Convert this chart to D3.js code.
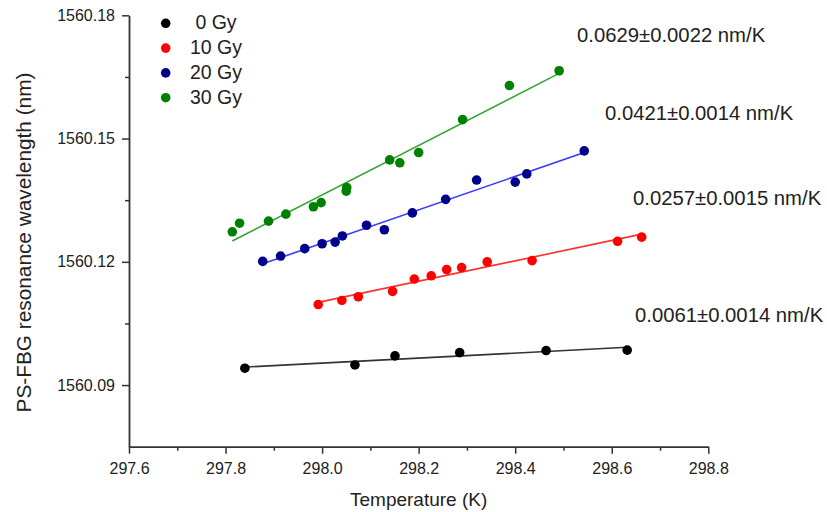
<!DOCTYPE html>
<html>
<head>
<meta charset="utf-8">
<script src="https://cdn.jsdelivr.net/npm/d3@7"></script>
<style>
  body { margin: 0; background: #fff; }
  svg { font-family: "Liberation Sans", Arial, sans-serif; }
</style>
</head>
<body>
<svg id="chart" width="827" height="512"></svg>
<script>
// ---- data ----
const seriesNames = [" 0 Gy", "10 Gy", "20 Gy", "30 Gy"];
const slopeLabels = ["0.0061\u00B10.0014 nm/K", "0.0257\u00B10.0015 nm/K", "0.0421\u00B10.0014 nm/K", "0.0629\u00B10.0022 nm/K"];

const temp0 = [297.840, 298.068, 298.151, 298.285, 298.464, 298.632];
const wl0   = [1560.0941, 1560.0949, 1560.0971, 1560.0979, 1560.0984, 1560.0985];

const temp10 = [297.992, 298.041, 298.075, 298.146, 298.191, 298.226, 298.258, 298.289, 298.342, 298.435, 298.612, 298.662];
const wl10   = [1560.1096, 1560.1106, 1560.1115, 1560.1128, 1560.1158, 1560.1166, 1560.1181, 1560.1186, 1560.1200, 1560.1203, 1560.1250, 1560.1260];

const temp20 = [297.877, 297.914, 297.964, 298.000, 298.027, 298.042, 298.092, 298.129, 298.187, 298.256, 298.320, 298.400, 298.424, 298.543];
const wl20   = [1560.1201, 1560.1214, 1560.1232, 1560.1244, 1560.1248, 1560.1263, 1560.1289, 1560.1278, 1560.1319, 1560.1352, 1560.1399, 1560.1394, 1560.1414, 1560.1470];

const temp30 = [297.814, 297.829, 297.889, 297.925, 297.982, 297.998, 298.050, 298.051, 298.140, 298.161, 298.200, 298.291, 298.388, 298.491];
const wl30   = [1560.1273, 1560.1294, 1560.1299, 1560.1316, 1560.1334, 1560.1344, 1560.1372, 1560.1381, 1560.1448, 1560.1441, 1560.1466, 1560.1546, 1560.1629, 1560.1665];

const xTicks = [297.6, 297.8, 298.0, 298.2, 298.4, 298.6, 298.8];
const xMinorTicks = [297.7, 297.9, 298.1, 298.3, 298.5, 298.7];
const yTicks = [1560.09, 1560.12, 1560.15, 1560.18];
const yMinorTicks = [1560.105, 1560.135, 1560.165];

// ---- styling ----
const pointColors = ["#000000", "#ff0000", "#00008b", "#008000"];
const lineColors  = ["#333333", "#ff3030", "#3a3aff", "#33a333"];
const labelPos = [[635, 322], [633, 205], [605, 120], [577, 42]];

const series = [
  {x: temp0,  y: wl0},
  {x: temp10, y: wl10},
  {x: temp20, y: wl20},
  {x: temp30, y: wl30}
];

const svg = d3.select("#chart");
const x = d3.scaleLinear().domain([297.6, 298.8]).range([129, 708.3]);
const y = d3.scaleLinear().domain([1560.075, 1560.18]).range([446.7, 15.3]);

const axisColor = "#333";

// X axis
svg.append("g").attr("transform", `translate(0,${y.range()[0]})`)
  .call(d3.axisBottom(x).tickValues(xTicks).tickFormat(d3.format(".1f")).tickSizeInner(7).tickSizeOuter(0).tickPadding(9));
svg.append("g").attr("transform", `translate(0,${y.range()[0]})`)
  .call(d3.axisBottom(x).tickValues(xMinorTicks).tickFormat("").tickSizeInner(4).tickSizeOuter(0))
  .select(".domain").remove();

// Y axis
svg.append("g").attr("transform", `translate(${x.range()[0]},0)`)
  .call(d3.axisLeft(y).tickValues(yTicks).tickFormat(d3.format(".2f")).tickSizeInner(7).tickSizeOuter(0).tickPadding(7));
svg.append("g").attr("transform", `translate(${x.range()[0]},0)`)
  .call(d3.axisLeft(y).tickValues(yMinorTicks).tickFormat("").tickSizeInner(4).tickSizeOuter(0))
  .select(".domain").remove();

svg.selectAll(".domain").attr("stroke", axisColor).attr("stroke-width", 1.8);
svg.selectAll(".tick line").attr("stroke", axisColor).attr("stroke-width", 1.5);
svg.selectAll(".tick text").attr("fill", "#222").style("font-size", "16px").style("font-family", '"Liberation Sans", Arial, sans-serif');

// Axis titles
svg.append("text")
  .attr("x", (x.range()[0] + x.range()[1]) / 2)
  .attr("y", 505.5)
  .attr("text-anchor", "middle")
  .attr("fill", "#222")
  .style("font-size", "19px")
  .text("Temperature (K)");

svg.append("text")
  .attr("transform", "translate(31,242.5) rotate(-90)")
  .attr("text-anchor", "middle")
  .attr("fill", "#222")
  .style("font-size", "20.8px")
  .text("PS-FBG resonance wavelength (nm)");

// Regression lines + points
function linfit(xs, ys) {
  const mx = d3.mean(xs), my = d3.mean(ys);
  let sxy = 0, sxx = 0;
  xs.forEach((xi, i) => { sxy += (xi - mx) * (ys[i] - my); sxx += (xi - mx) * (xi - mx); });
  const b = sxy / sxx, a = my - b * mx;
  return xv => a + b * xv;
}

series.forEach((s, i) => {
  const f = linfit(s.x, s.y);
  const [x0, x1] = d3.extent(s.x);
  svg.append("line")
    .attr("x1", x(x0)).attr("y1", y(f(x0)))
    .attr("x2", x(x1)).attr("y2", y(f(x1)))
    .attr("stroke", lineColors[i]).attr("stroke-width", 1.6);
});

series.forEach((s, i) => {
  svg.append("g").selectAll("circle")
    .data(s.x.map((xv, j) => [xv, s.y[j]]))
    .join("circle")
    .attr("cx", d => x(d[0]))
    .attr("cy", d => y(d[1]))
    .attr("r", 4.8)
    .attr("fill", pointColors[i]);
});

// Slope labels
slopeLabels.forEach((t, i) => {
  svg.append("text")
    .attr("x", labelPos[i][0]).attr("y", labelPos[i][1])
    .attr("fill", "#222")
    .style("font-size", "20.3px")
    .text(t);
});

// Legend
const legend = svg.append("g");
seriesNames.forEach((name, i) => {
  const ly = 23.3 + i * 24.8;
  legend.append("circle").attr("cx", 165.7).attr("cy", ly).attr("r", 4.8).attr("fill", pointColors[i]);
  legend.append("text")
    .attr("x", 190).attr("y", ly + 6)
    .attr("fill", "#222")
    .style("font-size", "19.5px")
    .style("white-space", "pre")
    .attr("xml:space", "preserve")
    .text(name);
});
</script>
</body>
</html>
